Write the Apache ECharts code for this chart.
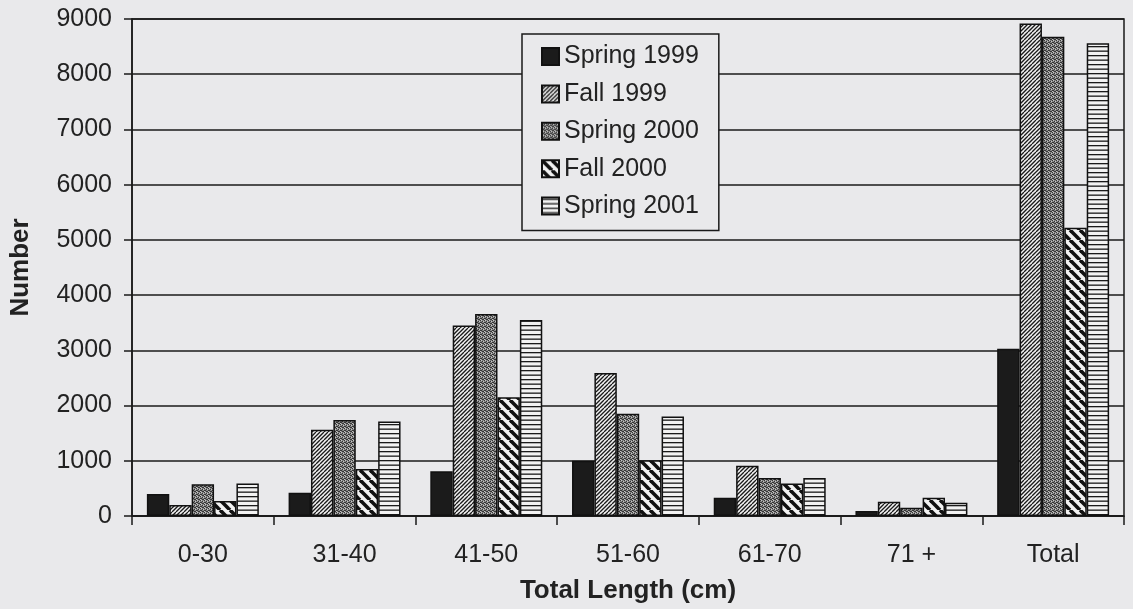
<!DOCTYPE html>
<html>
<head>
<meta charset="utf-8">
<script src="https://cdn.jsdelivr.net/npm/echarts@6/dist/echarts.min.js"></script>
<style>
html,body{margin:0;padding:0;background:#e9e9eb;}
#chart{width:1133px;height:609px;}
</style>
</head>
<body>
<div id="chart"></div>
<script>
// ---- data ----
var categories = ['0-30', '31-40', '41-50', '51-60', '61-70', '71 +', 'Total'];
var seriesNames = ['Spring 1999', 'Fall 1999', 'Spring 2000', 'Fall 2000', 'Spring 2001'];
var spring1999 = [400, 420, 810, 1000, 330, 90, 3030];
var fall1999   = [200, 1560, 3450, 2590, 910, 260, 8920];
var spring2000 = [575, 1740, 3660, 1850, 690, 150, 8680];
var fall2000   = [270, 850, 2150, 1010, 590, 330, 5220];
var spring2001 = [590, 1710, 3550, 1800, 690, 240, 8560];
var yTicks = [0, 1000, 2000, 3000, 4000, 5000, 6000, 7000, 8000, 9000];

// ---- patterns (style only) ----
var BG = '#e9e9eb';
var LIGHT = '#f2f2f2';
function mk(w, h, draw) {
  var c = document.createElement('canvas');
  c.width = w; c.height = h;
  var ctx = c.getContext('2d');
  draw(ctx, w, h);
  return { image: c, repeat: 'repeat' };
}
var patSolid = '#1b1b1b';
var patFwd = mk(8, 8, function (ctx, w, h) {
  ctx.fillStyle = LIGHT; ctx.fillRect(0, 0, w, h);
  ctx.strokeStyle = '#1a1a1a'; ctx.lineWidth = 1.3;
  for (var c = -16; c <= 24; c += 4) {
    ctx.beginPath(); ctx.moveTo(c, h); ctx.lineTo(c + h, 0); ctx.stroke();
  }
});
var patStip = mk(4, 4, function (ctx, w, h) {
  ctx.fillStyle = '#858585'; ctx.fillRect(0, 0, w, h);
  ctx.fillStyle = '#353535';
  [[0,0],[2,1],[1,2],[3,3],[2,3],[0,2]].forEach(function (p) { ctx.fillRect(p[0], p[1], 1, 1); });
  ctx.fillStyle = '#c4c4c4';
  [[1,0],[3,1],[0,3]].forEach(function (p) { ctx.fillRect(p[0], p[1], 1, 1); });
});
var patBack = mk(10, 10, function (ctx, w, h) {
  ctx.fillStyle = LIGHT; ctx.fillRect(0, 0, w, h);
  ctx.strokeStyle = '#111'; ctx.lineWidth = 3.6;
  for (var c = -20; c <= 20; c += 10) {
    ctx.beginPath(); ctx.moveTo(c, 0); ctx.lineTo(c + h, h); ctx.stroke();
  }
});
var patHoriz = mk(9, 9, function (ctx, w, h) {
  ctx.fillStyle = LIGHT; ctx.fillRect(0, 0, w, h);
  ctx.fillStyle = '#1a1a1a';
  ctx.fillRect(0, 1, w, 1.3);
  ctx.fillRect(0, 5.5, w, 1.3);
});

var fills = [patSolid, patFwd, patStip, patBack, patHoriz];
var values = [spring1999, fall1999, spring2000, fall2000, spring2001];

var FONT = "'Liberation Sans', Arial, Helvetica, sans-serif";
var TXT = '#222';

var chart = echarts.init(document.getElementById('chart'), null, { renderer: 'canvas' });
var series = seriesNames.map(function (name, i) {
  return {
    name: name,
    type: 'bar',
    data: values[i],
    barGap: '0%',
    barCategoryGap: '21%',
    itemStyle: { color: fills[i], borderColor: '#111', borderWidth: 1.5 },
    emphasis: { disabled: true },
    animation: false
  };
});

chart.setOption({
  backgroundColor: BG,
  animation: false,
  textStyle: { fontFamily: FONT, color: TXT },
  grid: {
    left: 128, right: 9, top: 19, bottom: 93,
    show: true, borderColor: '#1a1a1a', borderWidth: 1.5, backgroundColor: 'transparent'
  },
  legend: {
    orient: 'vertical',
    left: 522, top: 34,
    padding: [10, 20, 12, 19],
    itemWidth: 17, itemHeight: 17, itemGap: 12.4,
    icon: 'rect',
    backgroundColor: BG,
    borderColor: '#1a1a1a', borderWidth: 1.5,
    textStyle: { fontFamily: FONT, fontSize: 25, color: TXT, lineHeight: 22 },
    selectedMode: false,
    data: seriesNames
  },
  xAxis: {
    type: 'category',
    data: categories,
    name: 'Total Length (cm)',
    nameLocation: 'middle',
    nameGap: 62,
    nameTextStyle: { fontFamily: FONT, fontSize: 26, fontWeight: 'bold', color: TXT },
    axisLine: { lineStyle: { color: '#1a1a1a', width: 1.5 } },
    axisTick: { show: true, length: 9, lineStyle: { color: '#1a1a1a', width: 1.5 } },
    axisLabel: { fontFamily: FONT, fontSize: 25, color: TXT, margin: 27 },
    splitLine: { show: false }
  },
  yAxis: {
    type: 'value',
    min: 0, max: 9000, interval: 1000,
    name: 'Number',
    nameLocation: 'middle',
    nameGap: 98,
    nameTextStyle: { fontFamily: FONT, fontSize: 26, fontWeight: 'bold', color: TXT },
    axisLine: { show: true, lineStyle: { color: '#1a1a1a', width: 1.5 } },
    axisTick: { show: true, length: 8, lineStyle: { color: '#1a1a1a', width: 1.5 } },
    axisLabel: {
      fontFamily: FONT, fontSize: 25, color: TXT, margin: 20,
      formatter: function (v) { return yTicks.indexOf(v) >= 0 ? String(v) : ''; }
    },
    splitLine: { show: true, lineStyle: { color: '#1a1a1a', width: 1.5 } }
  },
  series: series
});
</script>
</body>
</html>
